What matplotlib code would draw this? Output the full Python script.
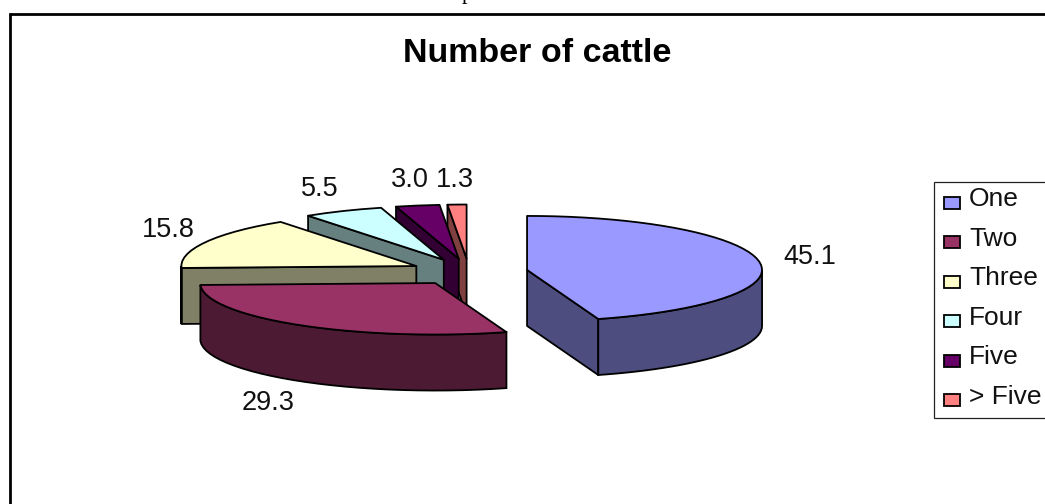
import numpy as np
import matplotlib
matplotlib.use("Agg")
import matplotlib.pyplot as plt
from matplotlib.patches import Polygon, Rectangle

plt.rcParams['font.family'] = ['Liberation Sans', 'DejaVu Sans']

title = "Number of cattle"
categories = ["One", "Two", "Three", "Four", "Five", "> Five"]
values = [45.1, 29.3, 15.8, 5.5, 3.0, 1.3]
value_labels = ["45.1", "29.3", "15.8", "5.5", "3.0", "1.3"]
top_colors = ["#9999FF", "#993366", "#FFFFCC", "#CCFFFF", "#660066", "#FF8080"]
side_colors = ["#4D4D80", "#4D1A33", "#808066", "#668080", "#330033", "#804040"]

# pie geometry, in pixels of the picture
CX, CY = 469, 272
RX = 235
RY_BACK, RY_FRONT = 54, 51.5
DEPTH = 56
EXPLODE = 0.25
LW = 1.3

label_xy = [(810, 257), (268, 403), (168, 230), (320, 189), (410, 180), (455, 180)]


def rim(apex, t):
    # point on the slice's outer edge, t in radians clockwise from 12 o'clock
    ry = np.where(np.cos(t) > 0, RY_BACK, RY_FRONT)
    return apex[0] + RX * np.sin(t), apex[1] - ry * np.cos(t)


def draw_wall(ax, apex, t, color):
    x, y = rim(apex, t)
    pts = [(x, y), apex, (apex[0], apex[1] + DEPTH), (x, y + DEPTH)]
    ax.add_patch(Polygon(pts, closed=True, fc=color, ec="black", lw=LW, joinstyle="round"))


def draw_slice(ax, start, end, top_color, side_color):
    mid = (start + end) / 2
    apex = (CX + EXPLODE * RX * np.sin(mid), CY - EXPLODE * RY_BACK * np.cos(mid))

    if np.sin(start) < 0:
        draw_wall(ax, apex, start, side_color)
    if np.sin(end) > 0:
        draw_wall(ax, apex, end, side_color)

    # outer wall, only the part at the front of the pie
    lo, hi = max(start, np.pi / 2), min(end, 3 * np.pi / 2)
    if hi > lo:
        t = np.linspace(lo, hi, 30)
        x, y = rim(apex, t)
        pts = list(zip(x, y)) + list(zip(x[::-1], y[::-1] + DEPTH))
        ax.add_patch(Polygon(pts, closed=True, fc=side_color, ec="black", lw=LW))

    t = np.linspace(start, end, max(int((end - start) / 0.06), 3))
    x, y = rim(apex, t)
    pts = [apex] + list(zip(x, y))
    ax.add_patch(Polygon(pts, closed=True, fc=top_color, ec="black", lw=LW, joinstyle="round"))


def main():
    fig = plt.figure(figsize=(10.45, 5.04), dpi=100)
    ax = fig.add_axes([0, 0, 1, 1])
    ax.set_xlim(0, 1045)
    ax.set_ylim(504, 0)
    ax.axis("off")

    # chart frame runs off the right and bottom of the crop
    ax.add_patch(Rectangle((9.5, 13.5), 1100, 600, fc="white", ec="black", lw=2))
    ax.text(467, -1, "p", family="Liberation Serif", fontsize=16, ha="center", va="baseline")

    ax.text(537, 54, title, fontsize=24.5, fontweight="bold", ha="center", va="center")

    edges = np.cumsum([0] + values) / sum(values) * 2 * np.pi
    # back slices first so the front ones cover them
    for i in range(len(values) - 1, -1, -1):
        draw_slice(ax, edges[i], edges[i + 1], top_colors[i], side_colors[i])

    for (x, y), label in zip(label_xy, value_labels):
        ax.text(x, y, label, fontsize=19.5, ha="center", va="center", color="#111111")

    # legend
    ax.add_patch(Rectangle((933.5, 181.5), 200, 236, fc="white", ec="#222222", lw=0.9))
    for i, name in enumerate(categories):
        y = 203 + i * 39.4
        ax.add_patch(Rectangle((944, y - 6), 16, 12, fc=top_colors[i], ec="black", lw=1.3))
        ax.text(969, y - 3.5, name, fontsize=19, ha="left", va="center", color="#111111")

    fig.savefig("out.png", dpi=100)


if __name__ == "__main__":
    main()
